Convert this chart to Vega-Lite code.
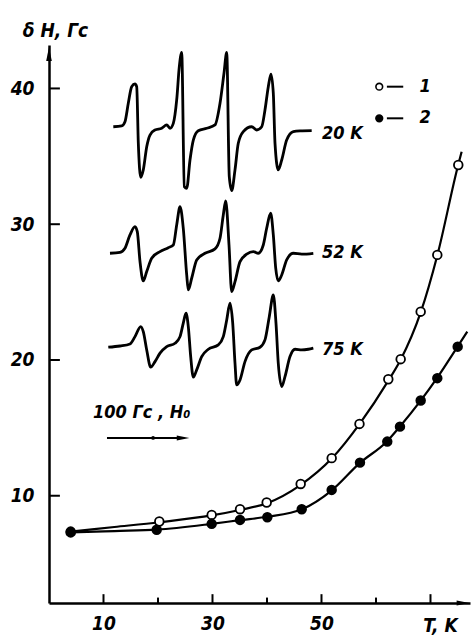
{
 "$schema": "https://vega.github.io/schema/vega-lite/v6.json",
 "width": 421, "height": 558,
 "autosize": "none",
 "padding": {"left": 49, "top": 45, "right": 1, "bottom": 37},
 "background": "white",
 "config": {"view": {"stroke": null}},
 "datasets": {
  "xt": [{"x":10,"y":2.1,"y2":2.75},{"x":20,"y":2.1,"y2":2.5},{"x":30,"y":2.1,"y2":2.75},{"x":40,"y":2.1,"y2":2.5},{"x":50,"y":2.1,"y2":2.75},{"x":60,"y":2.1,"y2":2.5},{"x":70,"y":2.1,"y2":2.75}],
  "yt": [{"y":10,"x":0,"x2":2.0},{"y":20,"x":0,"x2":2.0},{"y":30,"x":0,"x2":2.0},{"y":40,"x":0,"x2":2.0}],
  "sp": [
   {"t":"20","x":11.80,"y":37.18},{"t":"20","x":13.34,"y":37.24},{"t":"20","x":13.94,"y":37.55},{"t":"20","x":14.55,"y":38.91},{"t":"20","x":15.17,"y":40.13},{"t":"20","x":15.78,"y":40.33},{"t":"20","x":16.09,"y":40.13},{"t":"20","x":16.39,"y":35.96},{"t":"20","x":16.83,"y":33.46},{"t":"20","x":17.30,"y":34.0},{"t":"20","x":17.93,"y":35.71},{"t":"20","x":18.53,"y":36.57},{"t":"20","x":19.45,"y":36.94},{"t":"20","x":20.68,"y":37.07},{"t":"20","x":21.6,"y":37.31},{"t":"20","x":22.2,"y":37.07},{"t":"20","x":22.81,"y":37.43},{"t":"20","x":23.43,"y":39.15},{"t":"20","x":23.91,"y":41.6},{"t":"20","x":24.35,"y":42.66},{"t":"20","x":24.83,"y":32.77},{"t":"20","x":25.27,"y":32.65},{"t":"20","x":25.87,"y":34.73},{"t":"20","x":26.48,"y":36.2},{"t":"20","x":27.39,"y":36.89},{"t":"20","x":28.94,"y":37.07},{"t":"20","x":30.46,"y":37.31},{"t":"20","x":31.38,"y":38.91},{"t":"20","x":32.11,"y":41.12},{"t":"20","x":32.61,"y":42.66},{"t":"20","x":33.08,"y":33.5},{"t":"20","x":33.52,"y":32.47},{"t":"20","x":34.13,"y":34.0},{"t":"20","x":34.73,"y":35.96},{"t":"20","x":35.65,"y":36.82},{"t":"20","x":37.19,"y":37.18},{"t":"20","x":38.11,"y":36.94},{"t":"20","x":39.03,"y":37.18},{"t":"20","x":39.63,"y":38.41},{"t":"20","x":40.24,"y":40.13},{"t":"20","x":40.73,"y":41.06},{"t":"20","x":41.16,"y":39.64},{"t":"20","x":41.47,"y":35.96},{"t":"20","x":42.07,"y":34.0},{"t":"20","x":42.7,"y":34.73},{"t":"20","x":43.61,"y":36.2},{"t":"20","x":44.83,"y":36.82},{"t":"20","x":46.06,"y":36.87},{"t":"20","x":48.2,"y":36.89},
   {"t":"52","x":11.19,"y":27.86},{"t":"52","x":13.03,"y":27.93},{"t":"52","x":13.94,"y":28.23},{"t":"52","x":14.86,"y":29.21},{"t":"52","x":15.78,"y":29.82},{"t":"52","x":16.2,"y":29.45},{"t":"52","x":16.7,"y":27.24},{"t":"52","x":17.3,"y":25.82},{"t":"52","x":17.93,"y":26.51},{"t":"52","x":18.84,"y":27.49},{"t":"52","x":20.37,"y":27.98},{"t":"52","x":21.89,"y":28.27},{"t":"52","x":22.81,"y":28.47},{"t":"52","x":23.43,"y":29.95},{"t":"52","x":24.04,"y":31.29},{"t":"52","x":24.64,"y":29.7},{"t":"52","x":25.27,"y":26.26},{"t":"52","x":25.56,"y":25.16},{"t":"52","x":26.18,"y":26.02},{"t":"52","x":27.1,"y":27.37},{"t":"52","x":28.62,"y":27.86},{"t":"52","x":30.46,"y":28.18},{"t":"52","x":31.38,"y":28.97},{"t":"52","x":31.98,"y":30.68},{"t":"52","x":32.42,"y":31.71},{"t":"52","x":33.03,"y":28.47},{"t":"52","x":33.52,"y":25.03},{"t":"52","x":34.13,"y":25.77},{"t":"52","x":35.05,"y":27.24},{"t":"52","x":36.28,"y":27.79},{"t":"52","x":37.49,"y":27.98},{"t":"52","x":38.4,"y":27.86},{"t":"52","x":39.32,"y":28.47},{"t":"52","x":39.94,"y":29.7},{"t":"52","x":40.68,"y":30.81},{"t":"52","x":41.16,"y":29.21},{"t":"52","x":41.6,"y":26.76},{"t":"52","x":42.07,"y":25.82},{"t":"52","x":42.7,"y":26.26},{"t":"52","x":43.61,"y":27.37},{"t":"52","x":44.83,"y":27.86},{"t":"52","x":46.37,"y":27.79},{"t":"52","x":48.5,"y":27.86},
   {"t":"75","x":10.88,"y":20.94},{"t":"75","x":13.03,"y":21.03},{"t":"75","x":14.86,"y":21.18},{"t":"75","x":15.78,"y":21.72},{"t":"75","x":16.83,"y":22.46},{"t":"75","x":17.3,"y":22.09},{"t":"75","x":17.93,"y":20.74},{"t":"75","x":18.66,"y":19.47},{"t":"75","x":19.45,"y":19.88},{"t":"75","x":20.37,"y":20.5},{"t":"75","x":21.6,"y":20.98},{"t":"75","x":23.12,"y":21.23},{"t":"75","x":24.04,"y":21.72},{"t":"75","x":24.64,"y":22.71},{"t":"75","x":25.14,"y":23.44},{"t":"75","x":25.56,"y":22.46},{"t":"75","x":26.0,"y":20.25},{"t":"75","x":26.48,"y":18.73},{"t":"75","x":27.1,"y":19.27},{"t":"75","x":28.02,"y":20.25},{"t":"75","x":29.23,"y":20.79},{"t":"75","x":31.06,"y":21.11},{"t":"75","x":31.98,"y":21.72},{"t":"75","x":32.61,"y":22.95},{"t":"75","x":33.21,"y":24.18},{"t":"75","x":33.71,"y":22.71},{"t":"75","x":34.13,"y":19.76},{"t":"75","x":34.44,"y":18.16},{"t":"75","x":35.05,"y":18.53},{"t":"75","x":35.96,"y":19.88},{"t":"75","x":37.19,"y":20.74},{"t":"75","x":38.72,"y":20.94},{"t":"75","x":39.63,"y":21.48},{"t":"75","x":40.42,"y":23.19},{"t":"75","x":41.16,"y":24.79},{"t":"75","x":41.65,"y":22.71},{"t":"75","x":42.07,"y":19.76},{"t":"75","x":42.7,"y":18.04},{"t":"75","x":43.3,"y":18.77},{"t":"75","x":44.22,"y":20.25},{"t":"75","x":45.14,"y":20.79},{"t":"75","x":46.37,"y":20.74},{"t":"75","x":47.58,"y":20.79},{"t":"75","x":48.5,"y":20.87}
  ],
  "fit": [
   {"s":"1","x":3.98,"y":7.36},{"s":"1","x":12,"y":7.7},{"s":"1","x":20.2,"y":8.05},{"s":"1","x":29.85,"y":8.55},{"s":"1","x":35,"y":8.95},{"s":"1","x":40,"y":9.45},{"s":"1","x":46,"y":10.75},{"s":"1","x":52,"y":12.8},{"s":"1","x":57,"y":15.3},{"s":"1","x":62.3,"y":18.5},{"s":"1","x":64.5,"y":20.0},{"s":"1","x":68.2,"y":23.5},{"s":"1","x":71.25,"y":27.7},{"s":"1","x":75.1,"y":34.4},{"s":"1","x":75.72,"y":35.34},
   {"s":"2","x":3.98,"y":7.3},{"s":"2","x":12,"y":7.4},{"s":"2","x":19.8,"y":7.5},{"s":"2","x":29.85,"y":7.93},{"s":"2","x":35,"y":8.2},{"s":"2","x":40,"y":8.45},{"s":"2","x":46.4,"y":9.0},{"s":"2","x":51.9,"y":10.4},{"s":"2","x":57,"y":12.4},{"s":"2","x":62,"y":14.0},{"s":"2","x":64.4,"y":15.1},{"s":"2","x":68.2,"y":17.0},{"s":"2","x":71.25,"y":18.7},{"s":"2","x":75,"y":21.0},{"s":"2","x":76.75,"y":22.09}
  ],
  "pts": [
   {"s":"1","x":3.98,"y":7.36},{"s":"1","x":20.24,"y":8.10},{"s":"1","x":29.85,"y":8.59},{"s":"1","x":35.05,"y":9.01},{"s":"1","x":39.94,"y":9.50},{"s":"1","x":46.18,"y":10.87},{"s":"1","x":51.87,"y":12.77},{"s":"1","x":56.97,"y":15.29},{"s":"1","x":62.26,"y":18.58},{"s":"1","x":64.53,"y":20.06},{"s":"1","x":68.2,"y":23.56},{"s":"1","x":71.25,"y":27.74},{"s":"1","x":75.1,"y":34.36},
   {"s":"2","x":3.98,"y":7.3},{"s":"2","x":19.76,"y":7.49},{"s":"2","x":29.85,"y":7.93},{"s":"2","x":35.05,"y":8.22},{"s":"2","x":40.06,"y":8.42},{"s":"2","x":46.37,"y":9.01},{"s":"2","x":51.87,"y":10.43},{"s":"2","x":57.06,"y":12.44},{"s":"2","x":62.07,"y":13.99},{"s":"2","x":64.4,"y":15.09},{"s":"2","x":68.2,"y":17.01},{"s":"2","x":71.25,"y":18.66},{"s":"2","x":74.99,"y":20.98}
  ],
  "legpts": [{"s":"1","x":60.6,"y":40.13},{"s":"2","x":60.6,"y":37.8}],
  "hrules": [{"x":62.0,"x2":65.0,"y":40.13},{"x":62.0,"x2":65.0,"y":37.8},{"x":10.64,"x2":24.6,"y":14.26}],
  "texts": [
   {"x":50.1,"y":36.65,"text":"20 K"},{"x":50.1,"y":27.88,"text":"52 K"},{"x":50.1,"y":20.74,"text":"75 K"},
   {"x":8.07,"y":16.1,"text":"100 Гс ,  H₀"},{"x":68.0,"y":40.13,"text":"1"},{"x":68.0,"y":37.8,"text":"2"}
  ],
  "yarrow": [{"x":0,"y":42.54}],
  "xarrow": [{"x":75.96,"y":2.1},{"x":24.6,"y":14.26}],
  "dots": [{"x":19.1,"y":14.26}]
 },
 "encoding": {
  "x": {"field":"x","type":"quantitative","scale":{"domain":[0,77.25],"nice":false,"zero":false},
   "axis":{"values":[10,30,50],"ticks":false,"grid":false,"domainColor":"black","domainWidth":2.5,
    "labelFont":"Liberation Sans Narrow, DejaVu Sans Condensed, sans-serif","labelFontSize":19,"labelFontStyle":"italic","labelFontWeight":"bold","labelColor":"black","labelPadding":11,"labelDx":-5,"labelFlush":false,"labelOverlap":false,
    "title":"T, K","titleX":391,"titleY":22,"titleAlign":"center","titleBaseline":"middle","titleFont":"Liberation Sans Narrow, DejaVu Sans Condensed, sans-serif","titleFontSize":19,"titleFontStyle":"italic","titleFontWeight":"bold","titleColor":"black"}},
  "y": {"field":"y","type":"quantitative","scale":{"domain":[2.1,43.2],"nice":false,"zero":false},
   "axis":{"values":[10,20,30,40],"ticks":false,"grid":false,"domainColor":"black","domainWidth":2.5,
    "labelFont":"Liberation Sans Narrow, DejaVu Sans Condensed, sans-serif","labelFontSize":19,"labelFontStyle":"italic","labelFontWeight":"bold","labelColor":"black","labelPadding":15,"labelFlush":false,"labelOverlap":false,
    "title":"δ H, Гс","titleAngle":0,"titleX":6,"titleY":-15,"titleAlign":"center","titleBaseline":"middle","titleFont":"Liberation Sans Narrow, DejaVu Sans Condensed, sans-serif","titleFontSize":19,"titleFontStyle":"italic","titleFontWeight":"bold","titleColor":"black"}}
 },
 "layer": [
  {"data":{"name":"xt"},"mark":{"type":"rule","color":"black","strokeWidth":2},"encoding":{"y2":{"field":"y2"}}},
  {"data":{"name":"yt"},"mark":{"type":"rule","color":"black","strokeWidth":2},"encoding":{"x2":{"field":"x2"}}},
  {"data":{"name":"sp"},"mark":{"type":"line","color":"black","strokeWidth":2.8,"interpolate":"monotone"},"encoding":{"detail":{"field":"t"}}},
  {"data":{"name":"fit"},"mark":{"type":"line","color":"black","strokeWidth":2.2,"interpolate":"monotone"},"encoding":{"detail":{"field":"s"}}},
  {"data":{"name":"pts"},"mark":{"type":"point","shape":"circle","filled":true,"stroke":"black","strokeWidth":1.8,"size":75,"opacity":1},
   "encoding":{"fill":{"field":"s","type":"nominal","scale":{"domain":["1","2"],"range":["white","black"]},"legend":null}}},
  {"data":{"name":"legpts"},"mark":{"type":"point","shape":"circle","filled":true,"stroke":"black","strokeWidth":1.6,"size":45,"opacity":1},
   "encoding":{"fill":{"field":"s","type":"nominal","scale":{"domain":["1","2"],"range":["white","black"]},"legend":null}}},
  {"data":{"name":"hrules"},"mark":{"type":"rule","color":"black","strokeWidth":2},"encoding":{"x2":{"field":"x2"}}},
  {"data":{"name":"dots"},"mark":{"type":"point","shape":"circle","filled":true,"color":"black","size":14,"opacity":1}},
  {"data":{"name":"yarrow"},"mark":{"type":"point","shape":"M0,-1L0.4,1L-0.4,1Z","filled":true,"color":"black","size":196,"opacity":1}},
  {"data":{"name":"xarrow"},"mark":{"type":"point","shape":"M1,0L-1,-0.4L-1,0.4Z","filled":true,"color":"black","size":160,"opacity":1}},
  {"data":{"name":"texts"},"mark":{"type":"text","align":"left","baseline":"middle","font":"Liberation Sans Narrow, DejaVu Sans Condensed, sans-serif","fontSize":18,"fontStyle":"italic","fontWeight":"bold","color":"black"},
   "encoding":{"text":{"field":"text"}}}
 ]
}
